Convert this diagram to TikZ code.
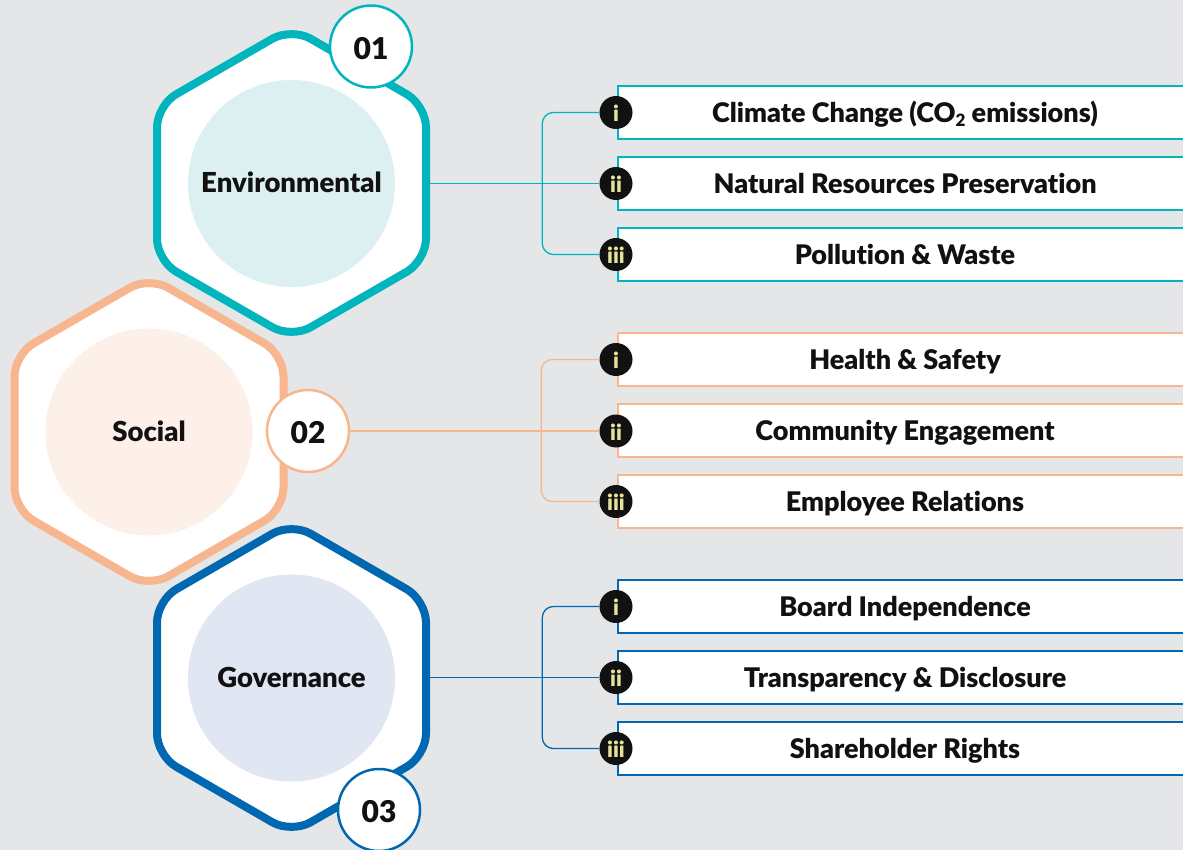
\documentclass[tikz,border=0pt]{standalone}
\usepackage{fontspec}
\setmainfont{Lato}
\newfontfamily\heavy{Lato Black}[Ligatures=NoCommon]
\definecolor{bgc}{HTML}{E5E6E8}
\definecolor{cEnv}{HTML}{00B5BE}
\definecolor{cEnvL}{HTML}{DCEFF1}
\definecolor{cSoc}{HTML}{F7B68D}
\definecolor{cSocL}{HTML}{FDF0E8}
\definecolor{cGov}{HTML}{0067B1}
\definecolor{cGovL}{HTML}{E1E6F3}
\definecolor{bulc}{HTML}{E3E39A}
\definecolor{txt}{HTML}{111111}
\tikzset{
  hexline/.style={line width=8pt, fill=white, rounded corners=22pt},
  numc/.style={circle, draw, line width=2.5pt, fill=white, minimum size=82pt, inner sep=0pt, text=txt, text height=25.6pt, text depth=0pt, font=\heavy\fontsize{30}{30}\selectfont},
  innerc/.style={circle, minimum size=207pt, inner sep=0pt, text=txt, text height=18.8pt, text depth=0pt, font=\heavy\fontsize{27.5}{27.5}\selectfont},
  itembox/.style={draw, line width=2pt, fill=white, minimum width=574pt, minimum height=53pt, anchor=west, inner sep=0pt, text=txt, text height=19.8pt, text depth=0pt, font=\heavy\fontsize{27}{27}\selectfont},
  bul/.style={circle, fill=txt, minimum size=33pt, inner sep=0pt, text=bulc, text height=18pt, text depth=0pt, font=\heavy\fontsize{22}{22}\selectfont},
  link/.style={line width=1.3pt},
  bracket/.style={line width=1.3pt, rounded corners=11pt},
}
\newcommand{\hexag}[3]{% center x, center y, colour
  \draw[hexline, draw=#3] (#1,#2) ++(0,-155.3) -- ++(134.5,77.65) -- ++(0,155.3) -- ++(-134.5,77.65) -- ++(-134.5,-77.65) -- ++(0,-155.3) -- cycle;
}
\newcommand{\subtwo}{\raisebox{-0.32ex}{\fontsize{17}{17}\selectfont 2}}
\begin{document}
\begin{tikzpicture}[x=1pt,y=-1pt]
\fill[bgc] (0,0) rectangle (1183,850);
\useasboundingbox (0,0) rectangle (1183,850);

% ---------- hexagons ----------
\hexag{291.5}{183}{cEnv}
\hexag{149}{432}{cSoc}
\hexag{291.5}{678}{cGov}

\node[innerc, fill=cEnvL] (env) at (291.5,183.5) {Environmental};
\node[innerc, fill=cSocL] (soc) at (149,432) {Social};
\node[innerc, fill=cGovL] (gov) at (291.5,678) {Governance};

\coordinate (envE) at (430,183.5);
\coordinate (govE) at (430,677.5);

\node[numc, draw=cEnv] (n1) at (371,46.5) {01};
\node[numc, draw=cSoc] (n2) at (308,431) {02};
\node[numc, draw=cGov] (n3) at (379,810) {03};

% ---------- item boxes ----------
\node[itembox, draw=cEnv] (e1) at (617,112.5) {Climate Change (CO\subtwo{} emissions)};
\node[itembox, draw=cEnv] (e2) at (617,183.5) {Natural Resources Preservation};
\node[itembox, draw=cEnv] (e3) at (617,254.5) {Pollution \& Waste};

\node[itembox, draw=cSoc] (s1) at (617,359.5) {Health \& Safety};
\node[itembox, draw=cSoc] (s2) at (617,430.5) {Community Engagement};
\node[itembox, draw=cSoc] (s3) at (617,501.5) {Employee Relations};

\node[itembox, draw=cGov] (g1) at (617,606.5) {Board Independence};
\node[itembox, draw=cGov] (g2) at (617,677.5) {Transparency \& Disclosure};
\node[itembox, draw=cGov] (g3) at (617,748.5) {Shareholder Rights};

% ---------- bullets ----------
\node[bul] (be1) at (616,112.5) {i};
\node[bul] (be2) at (616,183.5) {ii};
\node[bul] (be3) at (616,254.5) {iii};
\node[bul] (bs1) at (616,359.5) {i};
\node[bul] (bs2) at (616,431) {ii};
\node[bul] (bs3) at (616,501.5) {iii};
\node[bul] (bg1) at (616,606.5) {i};
\node[bul] (bg2) at (616,677.5) {ii};
\node[bul] (bg3) at (616,748.5) {iii};

% ---------- connectors ----------
\draw[link, draw=cEnv] (envE) -- (be2.west);
\draw[bracket, draw=cEnv] (be1.west) -| ([xshift=-57pt]be2.west) |- (be3.west);

\draw[link, draw=cSoc] (n2.east) -- (bs2.west);
\draw[bracket, draw=cSoc] (bs1.west) -| ([xshift=-58pt]bs2.west) |- (bs3.west);

\draw[link, draw=cGov] (govE) -- (bg2.west);
\draw[bracket, draw=cGov] (bg1.west) -| ([xshift=-57pt]bg2.west) |- (bg3.west);
\end{tikzpicture}
\end{document}
